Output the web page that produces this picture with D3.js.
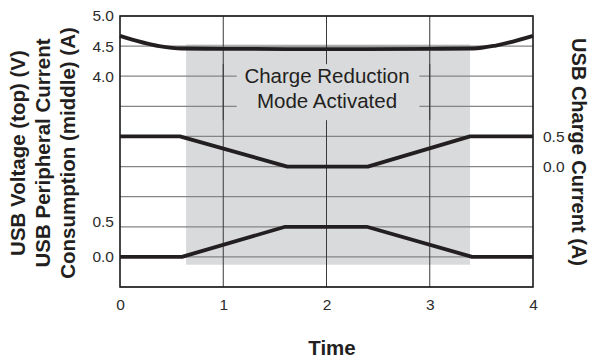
<!DOCTYPE html>
<html>
<head>
<meta charset="utf-8">
<script src="https://cdn.jsdelivr.net/npm/d3@7"></script>
<style>
  html, body { margin: 0; padding: 0; background: #fff; }
  svg { display: block; font-family: "Liberation Sans", Arial, sans-serif; }
</style>
</head>
<body>
<svg id="chart" width="591" height="360"></svg>
<script>
// ---- data ----
const timeTicks = [0, 1, 2, 3, 4];

// Left axis is a stacked axis: lower band = peripheral current (A), upper band = USB voltage (V)
const leftTickValues = [0, 0.5, 3.0, 3.5, 4.0];          // position on stacked scale
const leftTickLabels = ["0.0", "0.5", "4.0", "4.5", "5.0"];
const voltageOffset = -1.0;   // voltage v drawn at v + offset on stacked scale
const chargeOffset = 1.5;     // charge current drawn at c + offset
const rightTickValues = [0, 0.5];
const rightTickLabels = ["0.0", "0.5"];

// USB voltage (V)
const voltTime   = [0, 0.38, 0.6, 1.0, 2.0, 3.0, 3.42, 3.64, 4.0];
const voltValues = [4.67, 4.5, 4.46, 4.455, 4.45, 4.455, 4.46, 4.51, 4.67];

// USB charge current (A)
const chargeTime   = [0, 0.58, 1.62, 2.40, 3.39, 4.0];
const chargeValues = [0.5, 0.5, 0.0, 0.0, 0.5, 0.5];

// USB peripheral current consumption (A)
const periphTime   = [0, 0.60, 1.60, 2.39, 3.41, 4.0];
const periphValues = [0.0, 0.0, 0.5, 0.5, 0.0, 0.0];

// Shaded "charge reduction" window (time, stacked-scale levels)
const shadeTime  = [0.64, 3.39];
const shadeLevel = [-0.13, 3.53];
const annotationLines = ["Charge Reduction", "Mode Activated"];
const annotationBoxTime  = [1.13, 2.90];
const annotationBoxLevel = [2.27, 3.20];

const leftTitle = ["USB Voltage (top) (V)", "USB Peripheral Current", "Consumption (middle) (A)"];
const rightTitle = "USB Charge Current (A)";
const xTitle = "Time";

// ---- layout ----
const svg = d3.select("#chart");
const L = 120, R = 533, T = 16, B = 287;
const x = d3.scaleLinear().domain([0, 4]).range([L, R]);
const y = d3.scaleLinear().domain([-0.5, 4.0]).range([B, T]);

const shadeCol = "#d9dadc";
const lineCol = "#231f20";

// shaded region
svg.append("rect")
  .attr("x", x(shadeTime[0])).attr("y", y(shadeLevel[1]))
  .attr("width", x(shadeTime[1]) - x(shadeTime[0]))
  .attr("height", y(shadeLevel[0]) - y(shadeLevel[1]))
  .attr("fill", shadeCol);

// horizontal gridlines
const hGrid = d3.range(-0.5, 4.01, 0.5);
svg.append("g").selectAll("line").data(hGrid).join("line")
  .attr("x1", L).attr("x2", R)
  .attr("y1", d => y(d)).attr("y2", d => y(d))
  .attr("stroke", "#858585").attr("stroke-width", 1.2);

// vertical gridlines
svg.append("g").selectAll("line").data(timeTicks.slice(1, -1)).join("line")
  .attr("x1", d => x(d)).attr("x2", d => x(d))
  .attr("y1", T).attr("y2", B)
  .attr("stroke", "#3a3a3a").attr("stroke-width", 1);

// annotation box (hides gridlines behind text)
svg.append("rect")
  .attr("x", x(annotationBoxTime[0])).attr("y", y(annotationBoxLevel[1]))
  .attr("width", x(annotationBoxTime[1]) - x(annotationBoxTime[0]))
  .attr("height", y(annotationBoxLevel[0]) - y(annotationBoxLevel[1]))
  .attr("fill", shadeCol);

// re-draw vertical gridlines at t=1 and t=3 through the box
svg.append("g").selectAll("line").data([1, 3]).join("line")
  .attr("x1", d => x(d)).attr("x2", d => x(d))
  .attr("y1", y(annotationBoxLevel[1])).attr("y2", y(annotationBoxLevel[0]))
  .attr("stroke", "#3a3a3a").attr("stroke-width", 1);

const annX = x(2) + 0.5;
svg.append("text").attr("x", annX).attr("y", 83)
  .attr("text-anchor", "middle").attr("font-size", 20.5).attr("fill", "#231f20")
  .text(annotationLines[0]);
svg.append("text").attr("x", annX).attr("y", 108)
  .attr("text-anchor", "middle").attr("font-size", 20.5).attr("fill", "#231f20")
  .text(annotationLines[1]);

// border
svg.append("rect").attr("x", L).attr("y", T).attr("width", R - L).attr("height", B - T)
  .attr("fill", "none").attr("stroke", "#1a1a1a").attr("stroke-width", 1.6);

// series
const line = d3.line().x(d => x(d[0])).y(d => y(d[1]));
const lineCurve = d3.line().x(d => x(d[0])).y(d => y(d[1])).curve(d3.curveMonotoneX);

const voltPts = voltTime.map((t, i) => [t, voltValues[i] + voltageOffset]);
const chargePts = chargeTime.map((t, i) => [t, chargeValues[i] + chargeOffset]);
const periphPts = periphTime.map((t, i) => [t, periphValues[i]]);

[[voltPts, lineCurve], [chargePts, line], [periphPts, line]].forEach(([pts, gen]) => {
  svg.append("path").attr("d", gen(pts))
    .attr("fill", "none").attr("stroke", lineCol).attr("stroke-width", 3.8)
    .attr("stroke-linejoin", "round");
});

// axes
const tickFont = 15.5;
const xAxis = d3.axisBottom(x).tickValues(timeTicks).tickSize(0).tickPadding(12)
  .tickFormat(d3.format("d"));
const gx = svg.append("g").attr("transform", `translate(0,${B})`).call(xAxis);

const yAxis = d3.axisLeft(y).tickValues(leftTickValues).tickSize(0).tickPadding(6)
  .tickFormat((d, i) => leftTickLabels[i]);
const gy = svg.append("g").attr("transform", `translate(${L},0)`).call(yAxis);

const yR = d3.scaleLinear().domain([-0.5 - chargeOffset, 4.0 - chargeOffset]).range([B, T]);
const yRAxis = d3.axisRight(yR).tickValues(rightTickValues).tickSize(0).tickPadding(10)
  .tickFormat((d, i) => rightTickLabels[i]);
const gyr = svg.append("g").attr("transform", `translate(${R},0)`).call(yRAxis);

[gx, gy, gyr].forEach(g => {
  g.select(".domain").remove();
  g.selectAll("text").attr("font-size", tickFont).attr("fill", "#2b2b2b")
    .attr("font-family", "'Liberation Sans', Arial, sans-serif");
});
// the lower "0.5" label sits slightly above its gridline in the reference
gy.selectAll(".tick text").filter((d, i) => i === 1).attr("dy", "-0.05em");

// titles
const titleFont = 20.5;
leftTitle.forEach((t, i) => {
  svg.append("text")
    .attr("transform", `translate(${25 + i * 25},153) rotate(-90)`)
    .attr("text-anchor", "middle").attr("font-size", titleFont).attr("font-weight", "bold")
    .attr("fill", "#231f20").text(t);
});
svg.append("text")
  .attr("transform", `translate(572,152) rotate(90)`)
  .attr("text-anchor", "middle").attr("font-size", 20).attr("font-weight", "bold")
  .attr("fill", "#231f20").text(rightTitle);
svg.append("text").attr("x", 332).attr("y", 355)
  .attr("text-anchor", "middle").attr("font-size", titleFont).attr("font-weight", "bold")
  .attr("fill", "#231f20").text(xTitle);
</script>
</body>
</html>
